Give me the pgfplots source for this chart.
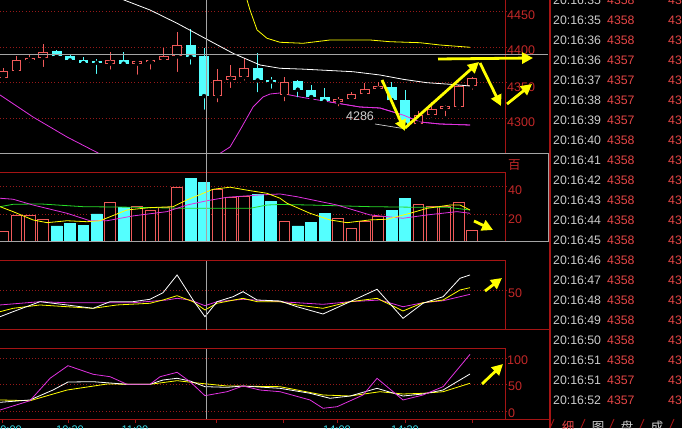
\documentclass[border=0pt]{standalone}
\usepackage{fontspec}
\setmainfont{Liberation Sans}
\newfontfamily\cjk{Noto Sans CJK SC}
\usepackage{pgfplots}
\usepackage{pgfplotstable}
\pgfplotsset{compat=1.18}
\usetikzlibrary{arrows.meta}
\definecolor{axred}{RGB}{165,20,20}
\definecolor{lblred}{RGB}{195,40,40}
\definecolor{grid}{RGB}{150,25,25}
\definecolor{candred}{RGB}{240,90,90}
\definecolor{ccyan}{RGB}{84,255,255}
\definecolor{cyel}{RGB}{255,255,0}
\definecolor{cmag}{RGB}{225,50,225}
\definecolor{cgreen}{RGB}{40,220,40}
\definecolor{cgray}{RGB}{165,165,165}
\definecolor{tgray}{RGB}{205,205,205}
\definecolor{pred}{RGB}{230,70,70}
\definecolor{tcyan}{RGB}{60,220,230}
% candles: index, low, body low, body high, high
\pgfplotstableread{
i L bl bh H
0 4353.8 4357.0 4366.4 4370.2
1 4366.0 4366.8 4381.8 4387.4
2 4374.8 4381.8 4384.2 4390.2
3 4369.2 4385.6 4392.6 4403.8
8 4365.4 4377.2 4381.8 4393.4
10 4358.4 4377.2 4379.4 4379.6
11 4365.4 4379.4 4381.8 4382.8
12 4379.2 4381.8 4386.4 4399.0
13 4362.2 4387.4 4402.8 4421.4
16 4319.8 4331.8 4353.8 4369.2
17 4339.8 4354.8 4358.4 4374.8
18 4350.0 4358.4 4370.2 4384.2
21 4321.2 4333.8 4350.0 4357.6
25 4314.2 4323.4 4327.2 4329.6
26 4325.6 4327.2 4333.8 4336.6
27 4331.4 4334.2 4341.2 4350.0
28 4339.8 4341.2 4344.4 4351.4
31 4288.4 4292.2 4304.8 4310.4
32 4297.8 4304.8 4312.8 4323.4
33 4300.2 4314.2 4316.4 4318.8
34 4309.4 4316.4 4345.4 4346.8
35 4337.4 4345.4 4356.2 4357.6
}\redcandles
\pgfplotstableread{
i L bl bh H
4 4384.2 4387.4 4394.4 4395.8
5 4375.8 4381.8 4386.4 4388.8
6 4377.2 4378.0 4381.8 4385.6
7 4359.4 4378.4 4379.4 4382.8
9 4372.4 4377.2 4381.8 4392.6
14 4372.4 4386.4 4402.8 4424.8
15 4309.4 4331.8 4386.4 4398.2
19 4333.8 4353.8 4370.2 4391.2
20 4338.8 4352.2 4353.4 4357.6
22 4326.8 4340.8 4351.4 4353.8
23 4325.8 4330.4 4339.8 4346.8
24 4321.2 4324.4 4329.6 4342.2
29 4325.6 4325.8 4343.6 4351.0
30 4286.0 4292.2 4325.8 4339.8
}\cyancandles
\pgfplotsset{panel/.style={scale only axis, anchor=south west, width=505pt, xmin=-0.224, xmax=37.46, hide axis, clip=true},
 vbar/.style={only marks, mark=none, error bars/.cd, y dir=plus, y explicit, error mark=none}}
\begin{document}
\begin{tikzpicture}[x=1pt,y=1pt]
\useasboundingbox (0,0) rectangle (682,428);
\fill[black] (0,0) rectangle (682,428);
\begin{scope}
\clip (0,0) rectangle (682,428);
% grid lines
\begin{scope}[grid, line width=0.7pt, dash pattern=on 1pt off 2.2pt]
\foreach \g in {416.7,381,345.3,309.6,241.2,213.6,138,70,43.5,17} \draw (0,\g) -- (508,\g);
\end{scope}
% main panel
\begin{axis}[panel, at={(0pt,274pt)}, height=154pt, ymin=4250.2, ymax=4465.8]
\addplot[cmag, line width=0.8pt, mark=none] coordinates {(-0.22,4332.8) (2.24,4302.0) (4.78,4274.0) (7.24,4250.2) (7.99,4241.8) (10.97,4220) (14.70,4220) (15.82,4241.8) (16.12,4250.2) (16.94,4260.0) (17.69,4283.8) (18.66,4316.0) (19.40,4330.0) (19.93,4334.2) (20.67,4335.6) (22.16,4330.0) (24.40,4323.0) (26.64,4316.0) (28.13,4314.6) (29.85,4304.8) (31.12,4295.0) (32.61,4292.2) (34.85,4290.8)};
% wicks
\addplot[vbar, error bar style={candred, line width=0.9pt}] table[x=i, y=L, y error plus expr={\thisrow{H}-\thisrow{L}}] {\redcandles};
\addplot[vbar, error bar style={ccyan, line width=0.9pt}] table[x=i, y=L, y error plus expr={\thisrow{H}-\thisrow{L}}] {\cyancandles};
% bodies
\addplot[vbar, error bar style={candred, line width=9.8pt}] table[x=i, y expr={\thisrow{bl}-0.6}, y error plus expr={\thisrow{bh}-\thisrow{bl}+1.2}] {\redcandles};
\addplot[vbar, error bar style={black, line width=7.8pt}] table[x=i, y expr={\thisrow{bl}+0.8}, y error plus expr={max(\thisrow{bh}-\thisrow{bl}-1.6,0)}] {\redcandles};
\addplot[vbar, error bar style={ccyan, line width=9.8pt}] table[x=i, y expr={\thisrow{bl}-0.6}, y error plus expr={\thisrow{bh}-\thisrow{bl}+1.2}] {\cyancandles};
\addplot[white, line width=0.8pt, mark=none] coordinates {(7.24,4479.8) (9.03,4465.8) (10.97,4451.8) (12.99,4433.2) (15.07,4412.2) (17.16,4391.2) (19.18,4374.8) (20.67,4370.2) (22.39,4369.0) (26.12,4365.4) (28.13,4360.8) (29.85,4354.8) (31.64,4350.0) (33.36,4347.8) (34.85,4345.4)};
\addplot[cyel, line width=0.8pt, mark=none] coordinates {(17.99,4479.8) (18.21,4465.8) (18.43,4451.8) (18.96,4423.8) (19.70,4412.2) (20.67,4406.6) (22.39,4405.2) (24.40,4409.8) (27.39,4409.8) (28.88,4407.4) (31.12,4406.0) (32.61,4402.8) (34.85,4399.6)};
\addplot[cmag, line width=0.8pt, mark=none] coordinates {(24.40,4323.0) (26.64,4316.0) (28.13,4314.6) (29.85,4304.8) (31.12,4295.0) (32.61,4292.2) (34.85,4290.8)};
\addplot[tgray, line width=0.7pt, mark=none] coordinates {(27.76,4292.2) (29.75,4286.2)};
\end{axis}
% volume panel
\begin{axis}[panel, at={(0pt,186pt)}, height=69pt, ymin=0, ymax=50]
\addplot[ybar, bar width=0.8, bar shift=0pt, draw=candred, fill=black, line width=0.9pt] coordinates {(0,8.0) (1,18.9) (2,19.4) (3,16.0) (8,28.8) (10,25.6) (11,22.5) (12,25.2) (13,39.7) (16,38.2) (17,32.4) (18,32.8) (21,14.7) (25,17.2) (26,9.9) (27,14.7) (28,18.3) (31,27.3) (32,25.6) (33,25.6) (34,28.8) (35,8.7)};
\addplot[ybar, bar width=0.8, bar shift=0pt, draw=ccyan, fill=ccyan, line width=0.9pt] coordinates {(4,11.6) (5,13.1) (6,12.3) (7,20.3) (9,24.9) (14,45.7) (15,43.0) (19,34.6) (20,29.7) (22,11.6) (23,14.0) (24,20.8) (29,22.5) (30,31.7)};
\addplot[cgreen, line width=0.8pt, mark=none] coordinates {(-0.22,25.6) (0.75,27.3) (2.76,27.6) (5.97,25.6) (9.70,25.2) (13.43,24.4) (18.43,24.4) (19.70,26.8) (20.67,27.2) (22.91,26.8) (27.39,25.6) (30.60,25.2) (33.13,25.2) (34.85,23.2)};
\addplot[cmag, line width=0.8pt, mark=none] coordinates {(-0.22,31.7) (0.75,31.0) (2.24,26.8) (4.78,20.8) (6.49,15.4) (7.76,15.4) (9.70,18.9) (12.24,22.0) (13.73,26.8) (15.22,29.9) (16.72,32.4) (19.18,34.1) (20.67,34.8) (21.94,32.8) (24.93,26.8) (27.39,19.6) (29.85,17.2) (31.64,19.6) (33.88,22.0) (34.85,20.8)};
\addplot[cyel, line width=0.8pt, mark=none] coordinates {(-0.22,25.6) (0.75,22.0) (2.24,16.0) (3.28,14.0) (4.78,15.4) (6.27,14.7) (7.24,15.4) (9.25,23.2) (10.97,24.9) (12.69,25.6) (13.73,30.5) (15.67,38.2) (16.94,39.7) (18.43,37.2) (19.70,35.3) (20.67,31.7) (21.19,28.1) (22.91,20.8) (24.40,16.0) (25.67,14.0) (27.39,16.0) (28.66,16.5) (30.37,20.8) (31.64,24.4) (33.36,26.8) (34.10,26.8) (34.85,23.2)};
\end{axis}
% indicator panel 1
\begin{axis}[panel, at={(0pt,98pt)}, height=69pt, ymin=0, ymax=86.25]
\addplot[cmag, line width=0.8pt, mark=none] coordinates {(-0.22,31.3) (2.76,35.4) (4.78,34.1) (9.70,34.1) (12.24,37.5) (12.99,39.6) (13.96,37.5) (15.07,30.4) (15.97,35.4) (17.91,38.4) (20.67,35.4) (23.88,32.1) (25.90,35.4) (28.13,37.5) (29.85,29.1) (31.34,34.1) (32.84,36.6) (34.85,44.6)};
\addplot[cyel, line width=0.8pt, mark=none] coordinates {(-0.22,22.9) (0.75,27.1) (2.76,31.3) (4.78,29.1) (6.72,27.1) (8.51,31.3) (10.97,33.4) (11.94,37.5) (12.99,42.9) (14.18,35.4) (15.07,25.0) (15.97,33.4) (17.91,39.6) (18.96,35.4) (20.67,35.4) (21.94,31.3) (23.88,27.1) (25.90,35.4) (27.91,39.6) (29.85,23.8) (31.34,34.1) (32.84,37.5) (34.10,50.0) (34.85,52.9)};
\addplot[white, line width=0.8pt, mark=none] coordinates {(-0.22,16.6) (0.75,22.9) (2.76,35.4) (4.78,31.3) (6.72,27.1) (7.99,35.4) (9.70,35.4) (10.97,38.4) (11.94,46.6) (12.99,68.8) (14.18,37.5) (15.07,16.6) (15.97,35.4) (17.16,41.6) (17.91,47.9) (18.96,37.5) (20.67,36.3) (21.94,29.1) (23.88,20.0) (25.90,35.4) (27.91,50.9) (29.85,14.6) (31.34,33.4) (32.84,41.6) (34.10,64.6) (34.85,68.8)};
\end{axis}
% indicator panel 2
\begin{axis}[panel, at={(0pt,9pt)}, height=70pt, ymin=-15.1, ymax=117.0]
\addplot[cyel, line width=0.8pt, mark=none] coordinates {(-0.22,20.8) (2.01,19.4) (4.78,39.6) (7.76,50.9) (10.97,50.4) (12.99,57.2) (14.70,52.3) (16.72,47.2) (20.67,45.9) (23.88,30.2) (25.90,28.3) (28.13,36.4) (29.85,32.1) (31.34,33.4) (32.84,36.4) (34.85,52.3)};
\addplot[white, line width=0.8pt, mark=none] coordinates {(-0.22,16.4) (2.01,20.8) (3.73,39.6) (4.85,54.7) (6.72,55.3) (9.25,50.4) (10.97,50.4) (11.94,58.5) (12.99,61.7) (13.96,56.6) (15.07,45.9) (16.72,44.7) (17.91,47.2) (20.67,42.8) (22.91,33.4) (24.40,24.0) (25.90,28.3) (27.91,42.8) (29.85,28.3) (31.34,32.1) (32.84,39.6) (33.88,55.3) (34.85,69.8)};
\addplot[cmag, line width=0.8pt, mark=none] coordinates {(-0.22,1.9) (2.01,19.4) (3.51,61.7) (4.85,85.5) (6.72,69.3) (7.99,64.7) (9.25,50.4) (10.97,50.4) (11.72,64.7) (12.99,73.0) (13.96,55.3) (15.07,28.9) (16.72,36.4) (17.91,47.2) (19.18,39.6) (20.67,36.4) (22.91,20.8) (23.88,5.1) (24.93,8.1) (26.87,30.2) (27.91,61.7) (29.85,20.8) (31.34,30.2) (32.84,45.9) (33.88,77.4) (34.85,107.0)};
\end{axis}
% frames
\draw[axred, line width=1pt] (505,428) -- (505,274);
\draw[axred, line width=1pt] (0,255) -- (505,255) -- (505,186);
\draw[axred, line width=1pt] (0,167) -- (505,167) -- (505,98);
\draw[axred, line width=1pt] (0,98) -- (550,98);
\draw[axred, line width=1pt] (0,79) -- (505,79) -- (505,9);
\draw[axred, line width=1pt] (0,9) -- (550,9);
\draw[cgray, line width=1pt] (0,274) -- (548,274) -- (548,186) -- (0,186);
\draw[axred, line width=2pt] (550,0) -- (550,428);
% crosshair
\draw[cgray, line width=0.9pt] (206,428) -- (206,186);
\draw[cgray, line width=0.9pt] (206,167) -- (206,98);
\draw[cgray, line width=0.9pt] (206,79) -- (206,9);
\draw[cgray, line width=0.9pt] (0,373.5) -- (548,373.5);
% axis ticks at bottom
\foreach \t in {2,68,135,216,283,337,405,472} \draw[axred, line width=1pt] (\t,9) -- (\t,5);
\begin{scope}[font=\fontsize{11}{11}\selectfont, text=tcyan, inner sep=0]
\node[anchor=base] at (8,-5.5) {10:00};
\node[anchor=base] at (70,-5.5) {10:30};
\node[anchor=base] at (135,-5.5) {11:00};
\node[anchor=base] at (337,-5.5) {14:00};
\node[anchor=base] at (405,-5.5) {14:30};
\end{scope}
% right axis labels
\begin{scope}[font=\fontsize{12.5}{12.5}\selectfont, text=lblred, inner sep=0]
\node[anchor=west] at (507,413) {4450};
\node[anchor=west] at (507,378) {4400};
\node[anchor=west] at (507,341) {4350};
\node[anchor=west] at (507,306) {4300};
\node[anchor=west] at (508,263) {\cjk 百};
\node[anchor=west] at (508,238) {40};
\node[anchor=west] at (508,209) {20};
\node[anchor=west] at (508,135) {50};
\node[anchor=west] at (507,68) {100};
\node[anchor=west] at (508,42) {50};
\node[anchor=west] at (508,15) {0};
\end{scope}
\node[text=tgray, font=\fontsize{12.5}{12.5}\selectfont, inner sep=0] at (360,312) {4286};
% time and sales list
\foreach \yy/\tm/\pp in {0/20:16:35/4358, 20/20:16:35/4358, 40/20:16:36/4358, 60/20:16:36/4357, 80/20:16:37/4357, 100/20:16:38/4357, 120/20:16:39/4357, 140/20:16:40/4358, 160/20:16:41/4358, 180/20:16:42/4358, 200/20:16:43/4358, 220/20:16:44/4358, 240/20:16:45/4358, 260/20:16:46/4358, 280/20:16:47/4358, 300/20:16:48/4358, 320/20:16:49/4358, 340/20:16:50/4358, 360/20:16:51/4358, 380/20:16:51/4357, 400/20:16:52/4357} {
  \node[anchor=west, inner sep=0, text=tgray, font=\fontsize{12.3}{12.3}\selectfont] at (553,{428-\yy}) {\tm};
  \node[anchor=west, inner sep=0, text=pred, font=\fontsize{12.3}{12.3}\selectfont] at (607,{428-\yy}) {\pp};
  \node[anchor=west, inner sep=0, text=pred, font=\fontsize{12.3}{12.3}\selectfont] at (668,{428-\yy}) {\pp};
}
\begin{scope}[font=\cjk\fontsize{12.5}{12.5}\selectfont, inner sep=0]
\node[text=pred] at (568,1) {细};
\node[text=tgray] at (598,1) {图};
\node[text=tgray] at (627,1) {盘};
\node[text=tgray] at (657,1) {成};
\end{scope}
\foreach \s in {553,584,613,643,673} \draw[axred, line width=0.9pt] (\s-3,0) -- (\s+1,9);
% arrows
\begin{scope}[cyel, line width=2.8pt, -{Triangle[length=11pt,width=11pt]}]
\draw (382,348) -- (405,297);
\draw (405,300) -- (479,366);
\draw (480,365) -- (501,322);
\draw (438,369) -- (533,370);
\draw (507,324) -- (532,344);
\draw (474,207) -- (493,198);
\draw (485,137) -- (502,150);
\draw (482,44) -- (503,64);
\end{scope}
\end{scope}
\end{tikzpicture}
\end{document}
